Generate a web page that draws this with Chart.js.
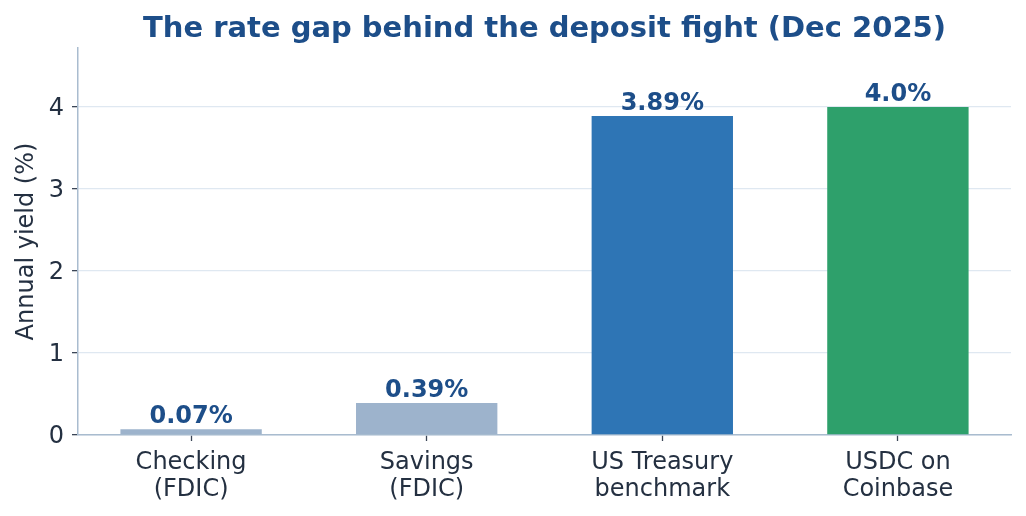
<!DOCTYPE html>
<html>
<head>
<meta charset="utf-8">
<script src="https://cdn.jsdelivr.net/npm/chart.js@4/dist/chart.umd.min.js"></script>
<style>
  html, body { margin: 0; padding: 0; background: #ffffff; }
  #wrap { width: 1026px; height: 516px; position: relative; }
</style>
</head>
<body>
<div id="wrap"><canvas id="c" width="1026" height="516"></canvas></div>
<script>
const categories = [["Checking", "(FDIC)"], ["Savings", "(FDIC)"], ["US Treasury", "benchmark"], ["USDC on", "Coinbase"]];
const yields = [0.07, 0.39, 3.89, 4.0];
const valueLabels = ["0.07%", "0.39%", "3.89%", "4.0%"];
const barColors = ["#9db3cc", "#9db3cc", "#2e75b5", "#2ea06b"];
const yTicks = [0, 1, 2, 3, 4];
const chartTitle = "The rate gap behind the deposit fight (Dec 2025)";

const FONT = "'DejaVu Sans', 'Liberation Sans', sans-serif";
const TEXT = "#243041";
const BLUE = "#1d4e89";

const valueLabelPlugin = {
  id: 'valueLabels',
  afterDatasetsDraw(chart) {
    const ctx = chart.ctx;
    const meta = chart.getDatasetMeta(0);
    ctx.save();
    ctx.font = "bold 24px " + FONT;
    ctx.fillStyle = BLUE;
    ctx.textAlign = 'center';
    ctx.textBaseline = 'alphabetic';
    meta.data.forEach((bar, i) => {
      ctx.fillText(valueLabels[i], bar.x, bar.y - 6);
    });
    ctx.restore();
  }
};

const titlePlugin = {
  id: 'areaTitle',
  afterDraw(chart) {
    const ctx = chart.ctx;
    const a = chart.chartArea;
    ctx.save();
    ctx.font = "bold 29px " + FONT;
    ctx.fillStyle = BLUE;
    ctx.textAlign = 'center';
    ctx.textBaseline = 'middle';
    ctx.fillText(chartTitle, (a.left + a.right) / 2, 29);
    ctx.restore();
  }
};

new Chart(document.getElementById('c'), {
  type: 'bar',
  data: {
    datasets: [{
      data: yields.map((v, i) => ({ x: i, y: v })),
      backgroundColor: barColors,
      borderWidth: 0,
      barPercentage: 0.6,
      categoryPercentage: 1.0
    }]
  },
  options: {
    responsive: false,
    animation: false,
    devicePixelRatio: 1,
    layout: { padding: { left: 0, right: 15, top: 48, bottom: 0 } },
    plugins: {
      legend: { display: false },
      tooltip: { enabled: false },
      title: { display: false }
    },
    scales: {
      x: {
        type: 'linear',
        offset: false,
        min: -0.48,
        max: 3.48,
        afterBuildTicks: (s) => { s.ticks = categories.map((c, i) => ({ value: i })); },
        afterFit: (s) => { s.height = 81; },
        ticks: {
          autoSkip: false,
          maxRotation: 0,
          color: TEXT,
          font: { family: FONT, size: 24, lineHeight: 1.13 },
          padding: 8,
          callback: (v) => categories[v]
        },
        grid: { offset: false, drawOnChartArea: false, tickLength: 6, tickColor: '#3b4656', tickWidth: 1.3 },
        border: { color: '#a9bccf', width: 1.5 }
      },
      y: {
        min: 0,
        max: 4.72,
        afterBuildTicks: (s) => { s.ticks = yTicks.map(v => ({ value: v })); },
        afterFit: (s) => { s.width = 78; },
        ticks: {
          color: TEXT,
          font: { family: FONT, size: 24 },
          padding: 8,
          labelOffset: 2
        },
        grid: { color: '#dfe8f1', lineWidth: 1.3, tickLength: 6, tickColor: '#3b4656', tickWidth: 1.3 },
        border: { color: '#a9bccf', width: 1.5 },
        title: {
          display: true,
          text: "Annual yield (%)",
          color: TEXT,
          font: { family: FONT, size: 24 },
          padding: { top: 12, bottom: 0 }
        }
      }
    }
  },
  plugins: [valueLabelPlugin, titlePlugin]
});
</script>
</body>
</html>
